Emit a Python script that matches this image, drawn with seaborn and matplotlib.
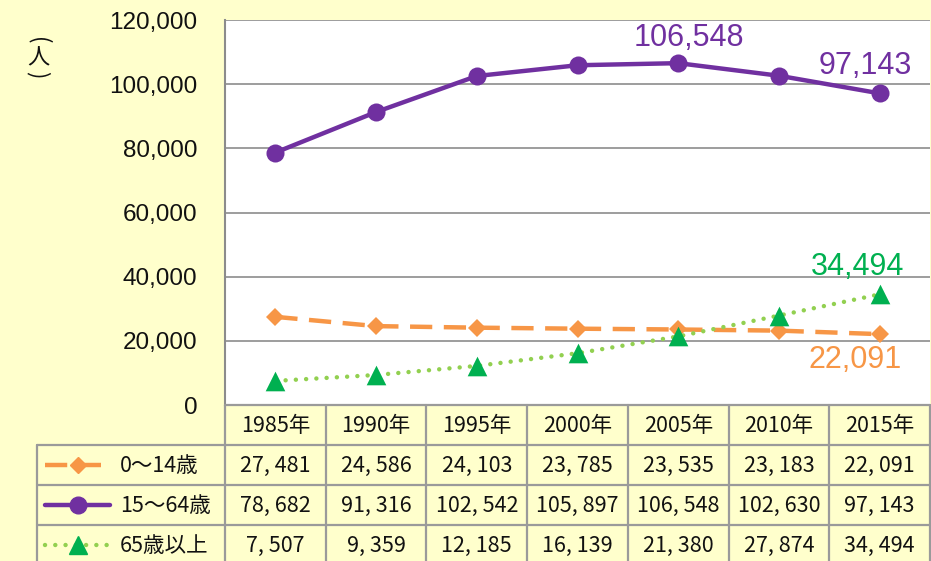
import numpy as np
import pandas as pd
import matplotlib
matplotlib.use("Agg")
import matplotlib.pyplot as plt
import seaborn as sns
from matplotlib.lines import Line2D

# Data
years = ["1985年", "1990年", "1995年", "2000年", "2005年", "2010年", "2015年"]
series_names = ["0〜14歳", "15〜64歳", "65歳以上"]
age_0_14 = [27481, 24586, 24103, 23785, 23535, 23183, 22091]
age_15_64 = [78682, 91316, 102542, 105897, 106548, 102630, 97143]
age_65_over = [7507, 9359, 12185, 16139, 21380, 27874, 34494]
yticks = [0, 20000, 40000, 60000, 80000, 100000, 120000]

sns.set_style("white")
plt.rcParams['font.family'] = ['Liberation Sans', 'Noto Sans CJK JP', 'DejaVu Sans']

BG = "#FFFFCC"
GRID = "#8C8C8C"
ORANGE = "#F79646"
PURPLE = "#7030A0"
LGREEN = "#92D050"
GREEN = "#00B050"

W, H = 931, 561
fig = plt.figure(figsize=(W / 100, H / 100), dpi=100, facecolor=BG)

def fx(x):
    return x / W

def fy(y):
    return 1 - y / H

# main chart area
left, right, top, bottom = 225, 930, 20, 405
ax = fig.add_axes([fx(left), fy(bottom), fx(right - left), (bottom - top) / H])
ax.set_facecolor("white")

df = pd.DataFrame({
    "pos": np.arange(len(years)),
    "a": age_0_14,
    "b": age_15_64,
    "c": age_65_over,
})

sns.lineplot(data=df, x="pos", y="a", ax=ax, color=ORANGE, lw=3.2,
             linestyle=(0, (5, 2.6)), marker="D", markersize=9,
             markeredgewidth=0, zorder=3)
sns.lineplot(data=df, x="pos", y="b", ax=ax, color=PURPLE, lw=3.2,
             marker="o", markersize=13, markeredgewidth=0, zorder=4)
sns.lineplot(data=df, x="pos", y="c", ax=ax, color=LGREEN, lw=3.2,
             linestyle=(0, (0.01, 2.3)), zorder=3)
ax.lines[-1].set_dash_capstyle("round")
sns.scatterplot(data=df, x="pos", y="c", ax=ax, color=GREEN, marker="^",
                s=200, linewidth=0, zorder=5)

ax.set_xlim(-0.5, len(years) - 0.5)
ax.set_ylim(0, 120000)
ax.set_yticks(yticks)
ax.set_yticklabels([f"{v:,}" for v in yticks], fontsize=17.5, color="#111111")
ax.set_xticks([])
ax.set_xlabel("")
ax.set_ylabel("")
ax.tick_params(axis="y", length=0, pad=20)
ax.grid(axis="y", color=GRID, lw=1.2)
ax.set_axisbelow(True)
for s in ["top", "right", "bottom"]:
    ax.spines[s].set_visible(False)
ax.spines["left"].set_color(GRID)
ax.spines["left"].set_linewidth(1.5)

# data labels
ax.annotate(f"{age_15_64[4]:,}", (4, age_15_64[4]), xytext=(8, 7),
            textcoords="offset points", ha="center", va="bottom",
            fontsize=22, color=PURPLE)
ax.annotate(f"{age_15_64[6]:,}", (6, age_15_64[6]), xytext=(-10, 9),
            textcoords="offset points", ha="center", va="bottom",
            fontsize=22, color=PURPLE)
ax.annotate(f"{age_65_over[6]:,}", (6, age_65_over[6]), xytext=(-16, 9),
            textcoords="offset points", ha="center", va="bottom",
            fontsize=22, color=GREEN)
ax.annotate(f"{age_0_14[6]:,}", (6, age_0_14[6]), xytext=(-18, -8),
            textcoords="offset points", ha="center", va="top",
            fontsize=22, color=ORANGE)

# y axis unit label (vertical): rotated brackets around 人
cjk = ["Noto Sans CJK JP", "DejaVu Sans"]
fig.text(fx(38), fy(41), "(", rotation=270, ha="center", va="center",
         fontsize=16, family=cjk, color="#111111")
fig.text(fx(38), fy(58), "人", ha="center", va="center",
         fontsize=16, family=cjk, color="#111111")
fig.text(fx(38), fy(75), ")", rotation=270, ha="center", va="center",
         fontsize=16, family=cjk, color="#111111")

# data table below the chart
tab = fig.add_axes([0, 0, 1, 1], facecolor="none")
tab.set_xlim(0, W)
tab.set_ylim(H, 0)
tab.axis("off")

col_edges = np.linspace(left, right, len(years) + 1)
col_mid = (col_edges[:-1] + col_edges[1:]) / 2
row_edges = [405, 445, 485, 525, 565]
lab_left = 37
tcol = "#9A9A9A"
tlw = 1.6
tsize = 15.5

tab.plot([left, right], [row_edges[0]] * 2, color=tcol, lw=tlw)
for y in row_edges[1:4]:
    tab.plot([lab_left, right], [y, y], color=tcol, lw=tlw)
for x in col_edges:
    tab.plot([x, x], [row_edges[0], row_edges[-1]], color=tcol, lw=tlw)
tab.plot([lab_left, lab_left], [row_edges[1], row_edges[-1]], color=tcol, lw=tlw)

for x, yr in zip(col_mid, years):
    tab.text(x, (row_edges[0] + row_edges[1]) / 2 + 1, yr, ha="center",
             va="center", fontsize=tsize, family=cjk, color="#111111")

rows = [age_0_14, age_15_64, age_65_over]
for r, vals in enumerate(rows):
    yc = (row_edges[r + 1] + row_edges[r + 2]) / 2 + 1
    for x, v in zip(col_mid, vals):
        tab.text(x, yc, f"{v:,}".replace(",", ", "), ha="center", va="center",
                 fontsize=tsize, family=cjk, color="#111111")

# legend samples inside the row-label cells
styles = [
    dict(color=ORANGE, lw=3.2, linestyle=(0, (5, 2.6)), marker="D",
         markersize=8, mfc=ORANGE, mec=ORANGE),
    dict(color=PURPLE, lw=3.2, linestyle="-", marker="o",
         markersize=12, mfc=PURPLE, mec=PURPLE),
    dict(color=LGREEN, lw=3.2, linestyle=(0, (0.01, 2.3)), marker="^",
         markersize=13, mfc=GREEN, mec=GREEN, dash_capstyle="round"),
]
for r, (name, st) in enumerate(zip(series_names, styles)):
    yc = (row_edges[r + 1] + row_edges[r + 2]) / 2
    line = Line2D([45, 78, 110], [yc, yc, yc], markevery=[1], **st)
    tab.add_line(line)
    tab.text(120, yc + 1, name, ha="left", va="center",
             fontsize=tsize, family=cjk, color="#111111")

fig.savefig("out.png", dpi=100, facecolor=BG)
